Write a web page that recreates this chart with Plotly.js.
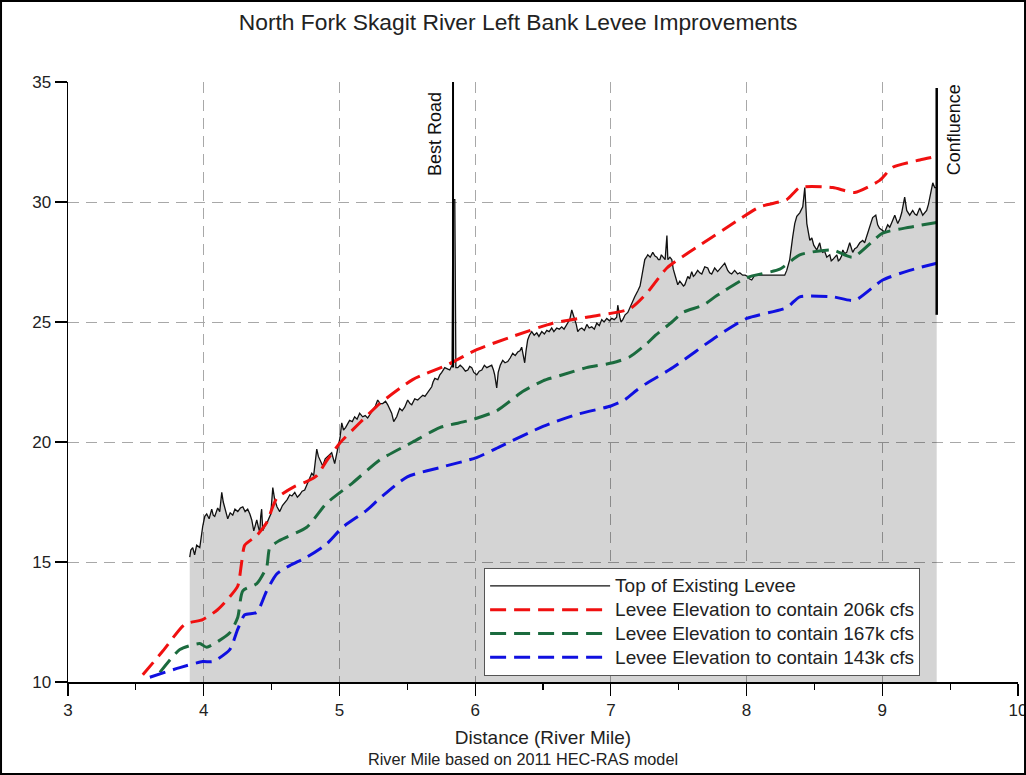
<!DOCTYPE html>
<html><head><meta charset="utf-8">
<script src="https://cdn.plot.ly/plotly-3.0.1.min.js"></script>
<style>html,body{margin:0;padding:0;background:#fff}#chart{width:1026px;height:775px}</style>
</head><body><div id="chart"></div>
<script>
// Top of existing levee (river mile, elevation ft)
const leveeMile = [3.897,3.905,3.919,3.933,3.948,3.971,3.993,4.008,4.022,4.040,4.059,4.070,4.081,4.103,4.118,4.133,4.144,4.155,4.177,4.195,4.214,4.230,4.251,4.270,4.288,4.305,4.324,4.340,4.354,4.369,4.380,4.391,4.405,4.413,4.420,4.427,4.435,4.450,4.464,4.494,4.509,4.523,4.540,4.560,4.580,4.597,4.615,4.634,4.650,4.671,4.690,4.707,4.725,4.744,4.766,4.796,4.810,4.818,4.833,4.845,4.855,4.877,4.895,4.914,4.943,4.965,4.975,4.988,5.005,5.017,5.030,5.045,5.061,5.075,5.095,5.112,5.130,5.149,5.171,5.190,5.208,5.225,5.245,5.265,5.282,5.300,5.319,5.340,5.356,5.370,5.385,5.400,5.410,5.422,5.444,5.462,5.481,5.503,5.520,5.533,5.555,5.577,5.595,5.614,5.630,5.651,5.665,5.680,5.690,5.703,5.725,5.740,5.754,5.776,5.795,5.813,5.830,5.837,5.850,5.858,5.872,5.890,5.909,5.928,5.946,5.960,5.975,5.990,6.012,6.030,6.049,6.068,6.086,6.105,6.122,6.135,6.144,6.159,6.170,6.185,6.203,6.220,6.240,6.258,6.277,6.295,6.314,6.330,6.343,6.355,6.365,6.375,6.387,6.400,6.417,6.435,6.454,6.470,6.491,6.510,6.528,6.545,6.564,6.580,6.601,6.620,6.638,6.655,6.675,6.697,6.712,6.734,6.745,6.756,6.770,6.786,6.805,6.823,6.840,6.859,6.878,6.896,6.915,6.933,6.950,6.970,6.990,7.007,7.025,7.043,7.051,7.066,7.075,7.088,7.105,7.125,7.140,7.154,7.176,7.199,7.215,7.228,7.240,7.250,7.262,7.272,7.290,7.309,7.325,7.339,7.350,7.361,7.372,7.383,7.400,7.413,7.420,7.435,7.449,7.460,7.471,7.482,7.493,7.508,7.523,7.535,7.545,7.555,7.567,7.580,7.596,7.608,7.618,7.640,7.655,7.670,7.692,7.714,7.728,7.743,7.765,7.787,7.803,7.817,7.839,7.850,7.861,7.875,7.890,7.912,7.934,7.950,7.971,7.990,8.008,8.020,8.038,8.060,8.097,8.281,8.296,8.318,8.340,8.355,8.370,8.392,8.414,8.429,8.444,8.451,8.466,8.481,8.495,8.517,8.530,8.539,8.550,8.561,8.575,8.591,8.613,8.624,8.635,8.650,8.665,8.676,8.687,8.700,8.709,8.723,8.738,8.760,8.770,8.782,8.797,8.812,8.834,8.856,8.870,8.885,8.907,8.929,8.952,8.966,8.980,8.996,9.018,9.040,9.055,9.070,9.092,9.114,9.130,9.143,9.165,9.180,9.202,9.224,9.240,9.254,9.276,9.298,9.312,9.327,9.340,9.349,9.365,9.372,9.386,9.401];
const leveeElev = [15.2,15.5,15.6,15.3,15.7,15.6,16.5,16.9,17.0,16.8,17.2,16.95,16.9,17.25,17.1,17.9,17.5,17.3,16.8,17.05,16.95,17.2,17.1,17.25,17.3,17.1,17.2,17.0,16.75,16.3,16.6,16.75,16.4,16.25,16.9,17.2,16.3,16.5,16.6,17.0,18.1,17.6,17.3,17.1,17.35,17.45,17.6,17.8,17.75,17.9,17.7,17.8,17.95,18.0,18.3,18.7,18.6,18.95,19.7,19.4,19.25,19.0,19.3,19.4,19.55,19.1,19.4,19.8,20.2,20.8,20.5,20.6,20.75,20.9,20.85,21.05,20.95,21.2,21.05,21.1,21.0,21.15,21.3,21.5,21.75,21.6,21.6,21.7,21.55,21.4,21.2,20.85,20.95,21.05,21.4,21.3,21.45,21.75,21.6,21.55,21.8,21.75,21.85,21.95,21.9,22.05,22.2,22.3,22.5,22.65,22.6,22.8,22.9,23.1,23.05,23.0,23.2,30.1,30.1,23.1,23.1,23.2,23.1,22.95,23.0,23.15,23.1,22.9,22.8,22.95,23.0,23.2,23.1,23.15,23.2,23.0,22.8,22.25,22.9,23.2,23.4,23.3,23.35,23.5,23.7,23.6,23.75,23.8,23.95,23.6,23.3,23.8,24.25,24.45,24.6,24.45,24.55,24.4,24.6,24.5,24.65,24.6,24.75,24.6,24.75,24.7,24.8,24.7,24.9,25.1,25.5,25.15,24.9,24.6,24.7,24.75,24.65,24.9,24.75,24.8,24.7,24.95,24.85,25.1,25.0,25.15,25.05,25.15,25.1,25.2,25.7,25.2,25.0,25.1,25.3,25.4,25.6,25.8,26.05,26.3,26.5,26.9,27.3,27.6,27.7,27.8,27.7,27.9,27.75,27.7,27.6,27.6,27.8,27.7,27.6,28.6,27.6,27.7,27.6,27.2,26.95,26.7,26.55,26.7,26.6,26.5,26.55,26.75,26.9,26.8,27.1,26.9,26.95,27.15,27.05,27.0,27.3,27.25,27.05,27.0,27.25,27.1,27.2,27.3,27.45,27.3,27.15,27.05,27.0,27.15,27.0,27.05,26.95,26.95,26.9,26.8,26.75,26.95,26.95,26.95,27.15,27.6,28.55,29.1,29.4,29.55,29.8,30.6,29.1,28.85,28.4,28.5,28.2,28.0,28.15,28.3,28.0,27.9,27.95,27.7,27.8,27.55,27.6,27.7,27.8,27.55,27.6,27.75,28.0,27.85,27.9,28.3,28.1,27.9,28.05,28.1,28.3,28.4,28.3,28.55,28.95,29.35,29.45,29.05,28.9,28.85,28.75,29.05,28.95,29.15,29.45,29.1,29.3,29.55,30.2,29.65,29.45,29.65,29.5,29.45,29.75,29.45,29.55,29.65,29.9,30.2,30.6,30.8,30.6,30.6];

// Levee elevation to contain 206k cfs
const mile206 = [3.551,3.70,3.860,3.993,4.100,4.192,4.251,4.280,4.302,4.391,4.464,4.538,4.671,4.758,4.833,4.904,5.002,5.150,5.297,5.540,5.790,6.012,6.277,6.572,6.823,7.140,7.265,7.413,7.656,7.899,8.098,8.296,8.392,8.635,8.797,8.981,9.077,9.276,9.401];
const elev206 = [10.3,11.3,12.4,12.6,13.0,13.55,14.0,15.0,15.7,16.1,16.65,17.65,18.15,18.35,18.6,19.2,19.95,20.8,21.6,22.6,23.2,23.85,24.4,24.95,25.2,25.55,26.2,27.25,28.2,29.1,29.8,30.1,30.6,30.6,30.4,30.9,31.45,31.75,31.9];

// Levee elevation to contain 167k cfs
const mile167 = [3.677,3.824,3.971,4.022,4.192,4.251,4.288,4.391,4.464,4.487,4.560,4.759,4.906,5.098,5.297,5.540,5.739,5.960,6.159,6.350,6.500,6.645,6.820,7.014,7.140,7.265,7.330,7.450,7.530,7.680,7.781,8.002,8.245,8.392,8.635,8.782,9.003,9.202,9.401];
const elev167 = [10.4,11.35,11.6,11.45,12.05,12.7,13.8,14.1,14.8,15.6,15.9,16.45,17.45,18.3,19.25,20.0,20.6,20.9,21.3,22.1,22.55,22.8,23.1,23.3,23.55,24.1,24.45,25.0,25.4,25.7,26.1,26.85,27.2,27.8,28.0,27.7,28.7,28.95,29.15];

// Levee elevation to contain 143k cfs
const mile143 = [3.603,3.824,3.993,4.067,4.192,4.251,4.302,4.391,4.464,4.538,4.634,4.759,4.906,5.024,5.200,5.297,5.500,5.750,6.010,6.180,6.500,6.750,7.000,7.100,7.200,7.265,7.457,7.781,8.002,8.296,8.392,8.635,8.797,9.003,9.202,9.401];
const elev143 = [10.2,10.6,10.85,10.85,11.35,12.2,12.8,12.9,13.8,14.5,14.85,15.2,15.75,16.45,17.15,17.65,18.55,18.95,19.35,19.8,20.65,21.15,21.5,21.75,22.2,22.45,23.1,24.4,25.15,25.6,26.05,26.05,25.9,26.75,27.15,27.45];

const seriesNames = ['Top of Existing Levee','Levee Elevation to contain 206k cfs','Levee Elevation to contain 167k cfs','Levee Elevation to contain 143k cfs'];
const xTickVals = [3,4,5,6,7,8,9,10];
const yTickVals = [10,15,20,25,30,35];
const bestRoadMile = 5.837, bestRoadBottom = 23.1;
const confluenceMile = 9.401, confluenceBottom = 25.3, confluenceTop = 34.75;

const legendLabel = s => '<span style="font-size:19px">' + s + '</span>';
const dashPat = '16px,8px';
const traces = [
  {x: leveeMile, y: leveeElev, type: 'scatter', mode: 'lines', fill: 'tozeroy',
   fillcolor: 'rgba(0,0,0,0.17)', line: {width: 0, color: 'rgba(0,0,0,0)'}, showlegend: false, hoverinfo: 'skip'},
  {x: leveeMile, y: leveeElev, type: 'scatter', mode: 'lines', name: legendLabel(seriesNames[0]),
   line: {color: '#111', width: 1.3}},
  {x: mile206, y: elev206, type: 'scatter', mode: 'lines', name: legendLabel(seriesNames[1]),
   line: {color: '#f01010', width: 3, dash: dashPat, shape: 'spline', smoothing: 0.6}},
  {x: mile167, y: elev167, type: 'scatter', mode: 'lines', name: legendLabel(seriesNames[2]),
   line: {color: '#1b6b3e', width: 3, dash: dashPat, shape: 'spline', smoothing: 0.6}},
  {x: mile143, y: elev143, type: 'scatter', mode: 'lines', name: legendLabel(seriesNames[3]),
   line: {color: '#1010e0', width: 3, dash: dashPat, shape: 'spline', smoothing: 0.6}}
];

const fontFam = '"Liberation Sans", Arial, sans-serif';
const layout = {
  width: 1026, height: 775,
  margin: {l: 68, r: 8, t: 82, b: 93},
  paper_bgcolor: '#fff', plot_bgcolor: '#fff',
  font: {family: fontFam, color: '#222', size: 16},
  title: {text: 'North Fork Skagit River Left Bank Levee Improvements', font: {size: 22.8, color: '#222', family: fontFam},
          xref: 'container', yref: 'container', x: 0.505, y: 0.971, xanchor: 'center', yanchor: 'middle'},
  xaxis: {range: [3, 10], tickvals: xTickVals, ticktext: xTickVals.map(String), ticklabeloverflow: 'allow',
          showline: true, linecolor: '#000', linewidth: 1.5, ticks: 'outside', ticklen: 12, tickwidth: 1.2, tickcolor: '#000',
          showgrid: true, gridcolor: '#a8a8a8', gridwidth: 1, griddash: '11px,7px', zeroline: false,
          tickfont: {size: 17, color: '#222'},
          minor: {dtick: 0.5, tick0: 3, ticks: 'outside', ticklen: 6, tickcolor: '#000', showgrid: false},
          title: {text: 'Distance (River Mile)', font: {size: 19, color: '#222'}, standoff: 12}},
  yaxis: {range: [10, 35], tickvals: yTickVals, ticktext: yTickVals.map(String),
          showline: true, linecolor: '#000', linewidth: 1.5, ticks: 'outside', ticklen: 12, tickwidth: 1.2, tickcolor: '#000',
          showgrid: true, gridcolor: '#a8a8a8', gridwidth: 1, griddash: '11px,7px', zeroline: false,
          tickfont: {size: 17, color: '#222'}},
  showlegend: true,
  legend: {x: 0.438, y: 0.19, xanchor: 'left', yanchor: 'top', bgcolor: '#fff', bordercolor: '#555', borderwidth: 1,
           font: {size: 16, color: '#222'}, itemwidth: 120, tracegroupgap: 0},
  shapes: [
    {type: 'line', xref: 'x', yref: 'y', x0: bestRoadMile, x1: bestRoadMile, y0: bestRoadBottom, y1: 35, line: {color: '#000', width: 2}},
    {type: 'line', xref: 'x', yref: 'y', x0: confluenceMile, x1: confluenceMile, y0: confluenceBottom, y1: confluenceTop, line: {color: '#000', width: 2.5}},
    {type: 'rect', xref: 'paper', yref: 'paper', x0: -0.0705, x1: 1.0074, y0: -0.1533, y1: 1.135, line: {color: '#000', width: 2}, fillcolor: 'rgba(0,0,0,0)'}
  ],
  annotations: [
    {text: 'Best Road', xref: 'x', yref: 'y', x: bestRoadMile, y: 35, xanchor: 'right', yanchor: 'top', textangle: -90,
     showarrow: false, xshift: -6, yshift: -8, font: {size: 18, color: '#111'}},
    {text: 'Confluence', xref: 'x', yref: 'y', x: confluenceMile, y: 35, xanchor: 'left', yanchor: 'top', textangle: -90,
     showarrow: false, xshift: 5, yshift: 0, font: {size: 18, color: '#111'}},
    {text: 'River Mile based on 2011 HEC-RAS model', xref: 'paper', yref: 'paper', x: 0.479, y: -0.128, xanchor: 'center', yanchor: 'middle',
     showarrow: false, font: {size: 16.3, color: '#222'}}
  ]
};
Plotly.newPlot('chart', traces, layout, {displayModeBar: false, staticPlot: true});
</script></body></html>
